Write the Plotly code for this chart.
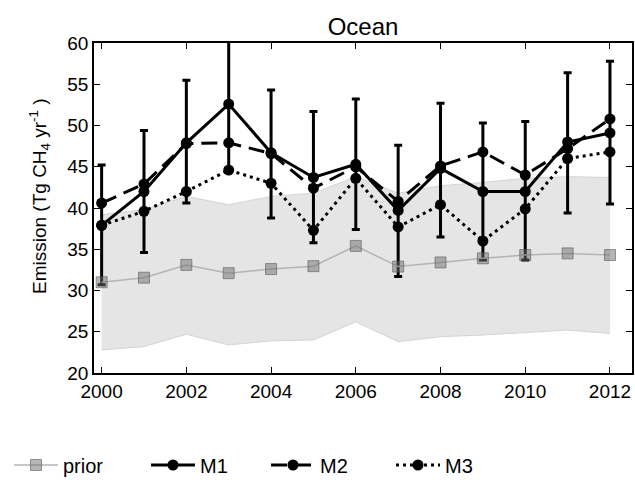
import plotly.graph_objects as go

years = list(range(2000, 2013))
prior = [31.0, 31.55, 33.1, 32.1, 32.6, 32.95, 35.4, 32.9, 33.4, 33.9, 34.3, 34.5, 34.3]
prior_lo = [22.8, 23.2, 24.7, 23.4, 23.9, 24.0, 26.2, 23.8, 24.4, 24.6, 24.9, 25.2, 24.8]
prior_hi = [39.2, 39.8, 41.4, 40.4, 41.4, 41.8, 43.8, 41.8, 42.7, 43.1, 43.6, 43.8, 43.7]
M1 = [37.9, 42.0, 47.9, 52.6, 46.7, 43.7, 45.3, 39.7, 44.8, 42.0, 42.0, 48.0, 49.1]
M2 = [40.6, 42.9, 47.8, 47.9, 46.6, 42.4, 45.0, 40.8, 45.1, 46.8, 44.0, 47.2, 50.8]
M3 = [37.9, 39.6, 42.0, 44.6, 43.0, 37.3, 43.6, 37.7, 40.4, 36.0, 39.9, 46.0, 46.8]
M1_hi = [45.2, 49.4, 55.5, 60.4, 54.3, 51.7, 53.2, 47.6, 52.7, 50.3, 50.5, 56.4, 57.8]
M1_lo = [30.7, 34.6, 40.6, 44.8, 38.8, 35.8, 37.4, 31.7, 36.5, 33.7, 33.7, 39.4, 40.5]
x_ticks = [2000, 2002, 2004, 2006, 2008, 2010, 2012]
y_ticks = [20, 25, 30, 35, 40, 45, 50, 55, 60]

W, H = 635, 483
FONT = "Liberation Sans, Arial, sans-serif"

fig = go.Figure()

# prior uncertainty band
fig.add_trace(go.Scatter(x=years, y=prior_lo, mode="lines",
                         line=dict(color="#d4d4d4", width=1),
                         showlegend=False, hoverinfo="skip"))
fig.add_trace(go.Scatter(x=years, y=prior_hi, mode="lines", fill="tonexty",
                         fillcolor="#e5e5e5",
                         line=dict(color="#d4d4d4", width=1),
                         showlegend=False, hoverinfo="skip"))

err_plus = [h - m for h, m in zip(M1_hi, M1)]
err_minus = [m - l for m, l in zip(M1, M1_lo)]

fig.add_trace(go.Scatter(x=years, y=M1, mode="lines+markers", name="M1",
                         line=dict(color="black", width=3),
                         marker=dict(color="black", size=11, symbol="circle"),
                         error_y=dict(type="data", symmetric=False, array=err_plus,
                                      arrayminus=err_minus, color="black",
                                      thickness=3, width=4),
                         legend="legend2"))
fig.add_trace(go.Scatter(x=years, y=M2, mode="lines+markers", name="M2",
                         line=dict(color="black", width=3, dash="16px,8px"),
                         marker=dict(color="black", size=11, symbol="circle"),
                         legend="legend3"))
fig.add_trace(go.Scatter(x=years, y=M3, mode="lines+markers", name="M3",
                         line=dict(color="black", width=3, dash="3px,4px"),
                         marker=dict(color="black", size=11, symbol="circle"),
                         legend="legend4"))
fig.add_trace(go.Scatter(x=years, y=prior, mode="lines+markers", name="prior",
                         line=dict(color="#b4b4b4", width=1.5),
                         marker=dict(color="rgba(110,110,110,0.5)", size=11,
                                     symbol="square",
                                     line=dict(color="rgba(80,80,80,0.55)", width=1)),
                         legend="legend"))

x0 = 94 / W
x1 = 632 / W
y0 = (H - 373) / H
y1 = (H - 43) / H

axis_common = dict(showline=True, linecolor="black", linewidth=1.5, mirror="allticks",
                   ticks="inside", ticklen=6, tickwidth=1, tickcolor="black",
                   showgrid=False, zeroline=False,
                   tickfont=dict(family=FONT, size=19, color="black"))

fig.update_xaxes(range=[1999.82, 2012.52], tickvals=x_ticks, domain=[x0, x1],
                 **axis_common)
fig.update_yaxes(range=[20, 60], tickvals=y_ticks, domain=[y0, y1], **axis_common)

legend_y = 1 - 465 / H
def leg(xpx):
    return dict(x=xpx / W, xref="paper", xanchor="left", y=legend_y,
                yref="paper", yanchor="middle", bgcolor="rgba(0,0,0,0)",
                borderwidth=0, itemwidth=44,
                font=dict(family=FONT, size=20, color="black"))

fig.update_layout(
    width=W, height=H,
    margin=dict(l=0, r=0, t=0, b=0, autoexpand=False),
    paper_bgcolor="white", plot_bgcolor="white",
    title=dict(text="Ocean", x=363 / W, xanchor="center", xref="paper",
               y=1 - 27 / H, yanchor="middle", yref="paper",
               font=dict(family=FONT, size=24, color="black")),
    legend=leg(9), legend2=leg(146), legend3=leg(266), legend4=leg(391),
    annotations=[dict(text="Emission (Tg CH<sub>4</sub> yr<sup>-1</sup> )",
                      textangle=-90, x=39 / W, y=1 - 196 / H, xref="paper",
                      yref="paper", xanchor="center", yanchor="middle",
                      showarrow=False,
                      font=dict(family=FONT, size=19, color="black"))],
)

fig.write_html(
    "out.html",
    config={"displayModeBar": False},
    post_script="document.body.style.margin='0';"
                "document.documentElement.style.overflow='hidden';"
                "document.body.style.overflow='hidden';",
)
